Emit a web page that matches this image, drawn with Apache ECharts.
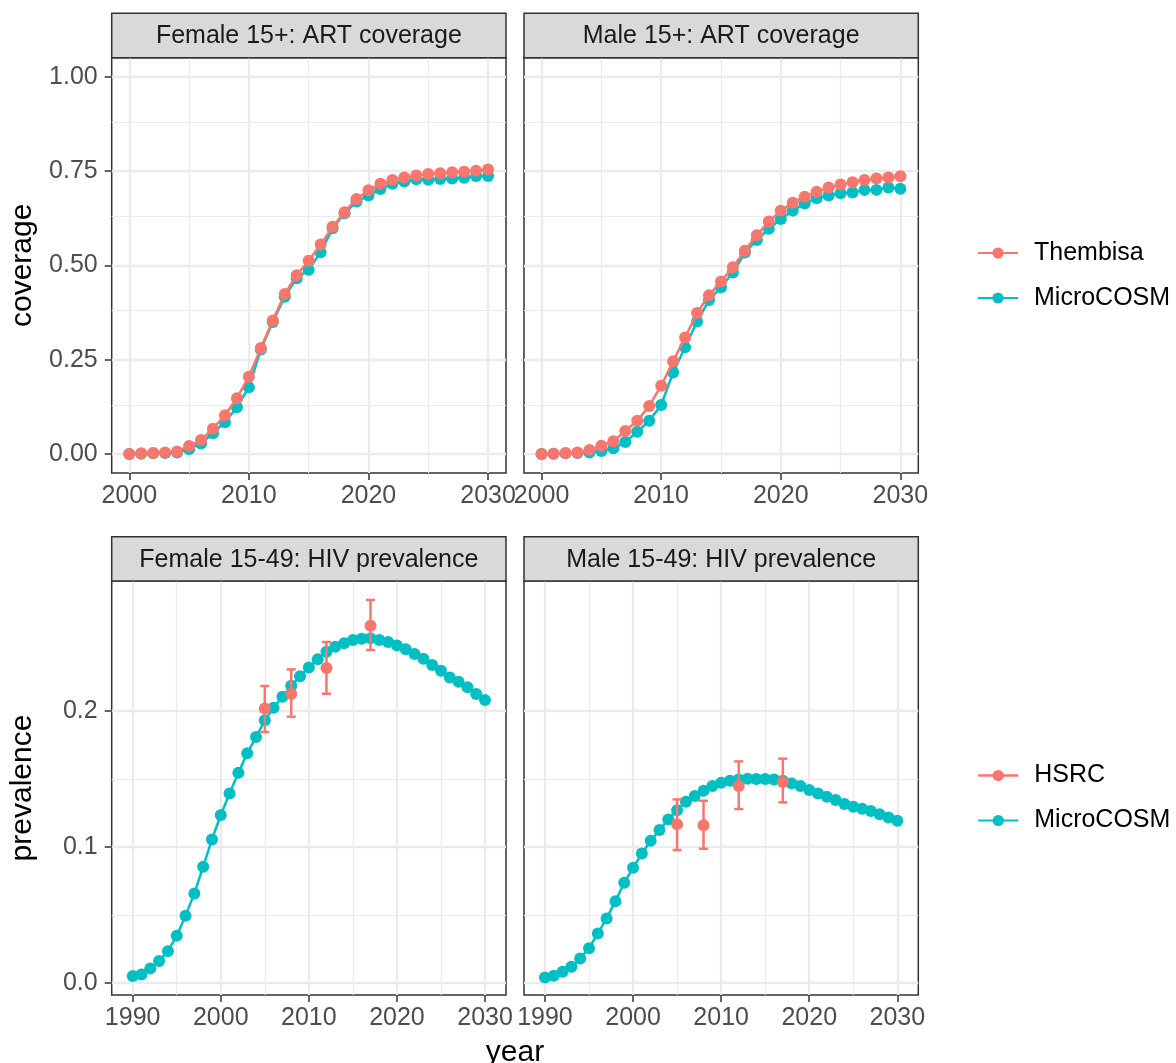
<!DOCTYPE html>
<html>
<head>
<meta charset="utf-8">
<script src="https://cdn.jsdelivr.net/npm/echarts@6/dist/echarts.min.js"></script>
<style>
  html, body { margin: 0; padding: 0; background: #ffffff; }
  #chart { width: 1176px; height: 1063px; }
</style>
</head>
<body>
<div id="chart"></div>
<script>
// ---------------- data ----------------
const yearsART = [2000,2001,2002,2003,2004,2005,2006,2007,2008,2009,2010,2011,2012,2013,2014,2015,2016,2017,2018,2019,2020,2021,2022,2023,2024,2025,2026,2027,2028,2029,2030];
const femaleThembisa = [0.000,0.002,0.003,0.004,0.007,0.021,0.037,0.067,0.103,0.148,0.205,0.281,0.354,0.424,0.474,0.512,0.555,0.602,0.641,0.676,0.699,0.716,0.726,0.733,0.738,0.742,0.744,0.747,0.748,0.751,0.754];
const femaleMicroART = [0.000,0.001,0.002,0.003,0.004,0.013,0.028,0.055,0.084,0.124,0.177,0.277,0.350,0.417,0.466,0.488,0.535,0.598,0.638,0.669,0.685,0.702,0.716,0.722,0.728,0.727,0.729,0.730,0.732,0.737,0.737];
const maleThembisa = [0.000,0.001,0.003,0.004,0.011,0.022,0.034,0.061,0.088,0.127,0.181,0.246,0.309,0.374,0.421,0.457,0.495,0.539,0.580,0.616,0.645,0.666,0.682,0.695,0.706,0.714,0.720,0.726,0.730,0.733,0.736];
const maleMicroART = [0.000,0.001,0.002,0.003,0.004,0.008,0.015,0.032,0.059,0.088,0.130,0.216,0.283,0.351,0.408,0.442,0.481,0.534,0.567,0.597,0.623,0.645,0.664,0.678,0.685,0.691,0.693,0.700,0.700,0.706,0.703];

const yearsPrev = [1990,1991,1992,1993,1994,1995,1996,1997,1998,1999,2000,2001,2002,2003,2004,2005,2006,2007,2008,2009,2010,2011,2012,2013,2014,2015,2016,2017,2018,2019,2020,2021,2022,2023,2024,2025,2026,2027,2028,2029,2030];
const femaleMicroPrev = [0.0049,0.0061,0.0106,0.0160,0.0233,0.0346,0.0493,0.0658,0.0854,0.1055,0.1235,0.1394,0.1546,0.1689,0.1809,0.1932,0.2025,0.2106,0.2187,0.2256,0.2322,0.2381,0.2437,0.2474,0.2499,0.2523,0.2533,0.2536,0.2523,0.2509,0.2484,0.2455,0.2420,0.2386,0.2339,0.2298,0.2248,0.2217,0.2175,0.2126,0.2081];
const maleMicroPrev = [0.0039,0.0052,0.0081,0.0118,0.0179,0.0255,0.0363,0.0474,0.0601,0.0736,0.0847,0.0952,0.1046,0.1124,0.1203,0.1271,0.1333,0.1375,0.1414,0.1448,0.1473,0.1487,0.1497,0.1502,0.1500,0.1500,0.1497,0.1487,0.1468,0.1448,0.1419,0.1394,0.1370,0.1345,0.1316,0.1296,0.1281,0.1264,0.1240,0.1217,0.1193];

const hsrcYears = [2005, 2008, 2012, 2017];
const femaleHSRC = [0.2020, 0.2128, 0.2317, 0.2629];
const femaleHSRCLow = [0.1846, 0.1959, 0.2128, 0.2450];
const femaleHSRCHigh = [0.2185, 0.2307, 0.2509, 0.2818];
const maleHSRC = [0.1168, 0.1159, 0.1448, 0.1478];
const maleHSRCLow = [0.0977, 0.0987, 0.1279, 0.1328];
const maleHSRCHigh = [0.1350, 0.1340, 0.1630, 0.1650];

const artYearTicks = [2000, 2010, 2020, 2030];
const prevYearTicks = [1990, 2000, 2010, 2020, 2030];
const artTicks = [0, 0.25, 0.5, 0.75, 1.0];
const prevTicks = [0, 0.1, 0.2];

const stripTitles = ['Female 15+: ART coverage', 'Male 15+: ART coverage', 'Female 15-49: HIV prevalence', 'Male 15-49: HIV prevalence'];

// ---------------- style ----------------
const RED = '#F8766D';
const CYAN = '#00BFC4';
const FONT = '"Liberation Sans", Arial, Helvetica, sans-serif';
const TICKFS = 25;
const TITLEFS = 30;

function pairs(xs, ys) { return xs.map((x, i) => [x, ys[i]]); }
function mids(t) { const r = []; for (let i = 0; i < t.length - 1; i++) r.push((t[i] + t[i + 1]) / 2); return r; }

const panels = [
  { left: 111.7, top: 57.8, width: 394.3, height: 415.1, xmin: 1998.53, xmax: 2031.5, ymin: -0.05, ymax: 1.05, xt: artYearTicks, yt: artTicks, yfmt: 2, showY: true },
  { left: 524,   top: 57.8, width: 394.3, height: 415.1, xmin: 1998.53, xmax: 2031.5, ymin: -0.05, ymax: 1.05, xt: artYearTicks, yt: artTicks, yfmt: 2, showY: false },
  { left: 111.7, top: 581,  width: 394.3, height: 414,   xmin: 1987.62, xmax: 2032.38, ymin: -0.009, ymax: 0.2958, xt: prevYearTicks, yt: prevTicks, yfmt: 1, showY: true },
  { left: 524,   top: 581,  width: 394.3, height: 414,   xmin: 1987.62, xmax: 2032.38, ymin: -0.009, ymax: 0.2958, xt: prevYearTicks, yt: prevTicks, yfmt: 1, showY: false }
];

const grid = panels.map(p => ({ left: p.left, top: p.top, width: p.width, height: p.height, show: true, borderColor: '#333333', borderWidth: 1.5, backgroundColor: 'transparent', containLabel: false }));

const xAxis = panels.map((p, i) => ({
  type: 'value', gridIndex: i, min: p.xmin, max: p.xmax,
  axisLine: { show: false, onZero: false },
  splitLine: { show: false },
  axisTick: { show: true, length: 7, customValues: p.xt, lineStyle: { color: '#333333', width: 1.5 } },
  axisLabel: { show: true, customValues: p.xt, margin: 11, color: '#4D4D4D', fontSize: TICKFS, fontFamily: FONT, formatter: v => String(v) }
}));

const yAxis = panels.map((p, i) => ({
  type: 'value', gridIndex: i, min: p.ymin, max: p.ymax,
  axisLine: { show: false, onZero: false },
  splitLine: { show: false },
  axisTick: { show: p.showY, length: 7, customValues: p.yt, lineStyle: { color: '#333333', width: 1.5 } },
  axisLabel: { show: p.showY, customValues: p.yt, margin: 14, color: '#4D4D4D', fontSize: TICKFS, fontFamily: FONT, formatter: v => v.toFixed(p.yfmt) },
  name: i === 0 ? 'coverage' : (i === 2 ? 'prevalence' : ''),
  nameLocation: 'middle', nameRotate: 90, nameGap: 74, nameMoveOverlap: false,
  nameTextStyle: { color: '#000000', fontSize: TITLEFS, fontFamily: FONT }
}));

const series = [];

// gridlines (drawn through the axes with markLine, kept beneath the data)
panels.forEach((p, i) => {
  const major = { color: '#EBEBEB', width: 2.4, type: 'solid' };
  const minor = { color: '#EBEBEB', width: 1.2, type: 'solid' };
  const d = [];
  mids(p.xt).forEach(v => d.push({ xAxis: v, lineStyle: minor }));
  mids(p.yt).forEach(v => d.push({ yAxis: v, lineStyle: minor }));
  p.xt.forEach(v => d.push({ xAxis: v, lineStyle: major }));
  p.yt.forEach(v => d.push({ yAxis: v, lineStyle: major }));
  series.push({
    type: 'line', xAxisIndex: i, yAxisIndex: i, data: [], silent: true, z: 0,
    markLine: { z: 0, silent: true, symbol: ['none', 'none'], label: { show: false }, animation: false, emphasis: { disabled: true }, data: d }
  });
});

function lineSeries(name, color, xs, ys, idx, z) {
  return {
    name, type: 'line', xAxisIndex: idx, yAxisIndex: idx, data: pairs(xs, ys),
    symbol: 'circle', symbolSize: 12, showSymbol: true, color,
    lineStyle: { color, width: 2.5 }, itemStyle: { color },
    emphasis: { disabled: true }, z, animation: false
  };
}

series.push(lineSeries('MicroCOSM', CYAN, yearsART, femaleMicroART, 0, 3));
series.push(lineSeries('Thembisa', RED, yearsART, femaleThembisa, 0, 4));
series.push(lineSeries('MicroCOSM', CYAN, yearsART, maleMicroART, 1, 3));
series.push(lineSeries('Thembisa', RED, yearsART, maleThembisa, 1, 4));
series.push(lineSeries('MicroCOSM', CYAN, yearsPrev, femaleMicroPrev, 2, 3));
series.push(lineSeries('MicroCOSM', CYAN, yearsPrev, maleMicroPrev, 3, 3));

function errorSeries(lo, hi, idx) {
  return {
    type: 'custom', xAxisIndex: idx, yAxisIndex: idx, z: 4, silent: true, animation: false,
    data: hsrcYears.map((y, i) => [y, lo[i], hi[i]]),
    encode: { x: 0, y: [1, 2] },
    renderItem: function (params, api) {
      const x = api.value(0);
      const a = api.coord([x, api.value(1)]);
      const b = api.coord([x, api.value(2)]);
      const hw = 4.5;
      const st = { stroke: RED, lineWidth: 2.5 };
      return {
        type: 'group',
        children: [
          { type: 'line', shape: { x1: a[0], y1: a[1], x2: b[0], y2: b[1] }, style: st },
          { type: 'line', shape: { x1: a[0] - hw, y1: a[1], x2: a[0] + hw, y2: a[1] }, style: st },
          { type: 'line', shape: { x1: b[0] - hw, y1: b[1], x2: b[0] + hw, y2: b[1] }, style: st }
        ]
      };
    }
  };
}
series.push(errorSeries(femaleHSRCLow, femaleHSRCHigh, 2));
series.push(errorSeries(maleHSRCLow, maleHSRCHigh, 3));

function pointSeries(name, xs, ys, idx) {
  return {
    name, type: 'line', xAxisIndex: idx, yAxisIndex: idx, data: pairs(xs, ys),
    symbol: 'circle', symbolSize: 12, showSymbol: true, color: RED,
    lineStyle: { color: RED, width: 2.5, opacity: 0 }, itemStyle: { color: RED },
    emphasis: { disabled: true }, z: 5, animation: false
  };
}
series.push(pointSeries('HSRC', hsrcYears, femaleHSRC, 2));
series.push(pointSeries('HSRC', hsrcYears, maleHSRC, 3));

// strips
const graphic = [];
panels.forEach((p, i) => {
  const sy = i < 2 ? 13.3 : 536.7;
  const sh = p.top - sy;
  graphic.push({ type: 'rect', silent: true, z: 10, shape: { x: p.left, y: sy, width: p.width, height: sh }, style: { fill: '#D9D9D9', stroke: '#333333', lineWidth: 1.5 } });
  graphic.push({ type: 'text', silent: true, z: 11, x: p.left + p.width / 2, y: sy + sh / 2 + 1, style: { text: stripTitles[i], fill: '#1A1A1A', font: TICKFS + 'px ' + FONT, textAlign: 'center', textVerticalAlign: 'middle' } });
});
graphic.push({ type: 'text', silent: true, x: 515, y: 1053, style: { text: 'year', fill: '#000000', font: TITLEFS + 'px ' + FONT, textAlign: 'center', textVerticalAlign: 'middle' } });

const legendBase = {
  orient: 'vertical', left: 972, itemWidth: 40, itemHeight: 14, itemGap: 20,
  selectedMode: false,
  textStyle: { color: '#000000', fontSize: TICKFS, fontFamily: FONT, lineHeight: 24, padding: [0, 0, 0, 11] }
};

const option = {
  animation: false,
  backgroundColor: '#ffffff',
  textStyle: { fontFamily: FONT },
  grid, xAxis, yAxis, series, graphic,
  legend: [
    Object.assign({}, legendBase, { top: 235.5, data: ['Thembisa', 'MicroCOSM'] }),
    Object.assign({}, legendBase, { top: 758, data: [{ name: 'HSRC', lineStyle: { opacity: 1, width: 2.5 } }, 'MicroCOSM'] })
  ]
};

const chart = echarts.init(document.getElementById('chart'), null, { renderer: 'canvas' });
chart.setOption(option);
</script>
</body>
</html>
